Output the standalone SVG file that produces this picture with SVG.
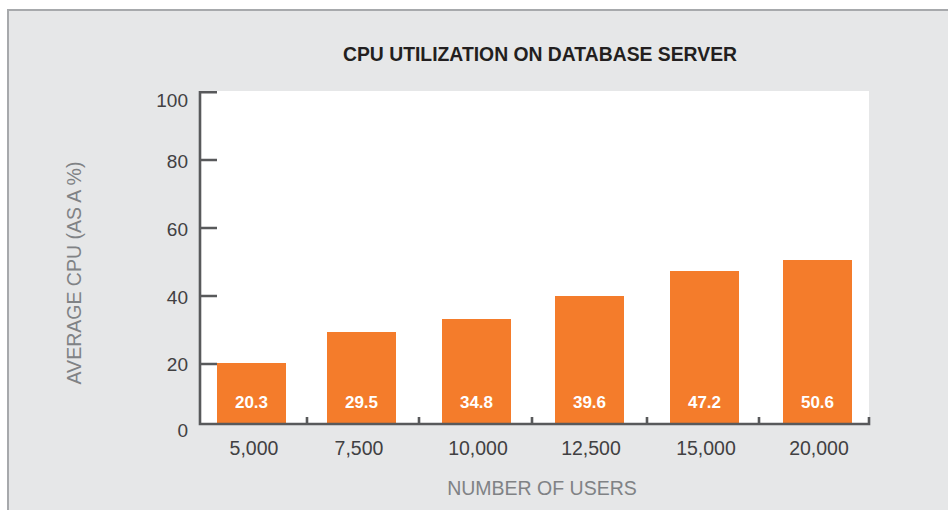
<svg xmlns="http://www.w3.org/2000/svg" width="948" height="510" viewBox="0 0 948 510">
<style>
.bar{fill:#f47c2b}
.axis{stroke:#58595b;stroke-width:2.6;fill:none}
.ylab{font-family:"Liberation Sans",Arial,sans-serif;font-size:19px;fill:#414042;text-anchor:end}
.xlab{font-family:"Liberation Sans",Arial,sans-serif;font-size:19.5px;fill:#414042;text-anchor:middle}
.val{font-family:"Liberation Sans",Arial,sans-serif;font-size:17px;font-weight:bold;fill:#ffffff;text-anchor:middle}
.atitle{font-family:"Liberation Sans",Arial,sans-serif;font-size:19.5px;fill:#808285;text-anchor:middle}
.title{font-family:"Liberation Sans",Arial,sans-serif;font-size:21px;font-weight:bold;fill:#231f20;text-anchor:middle}
</style>
<rect x="0" y="0" width="948" height="510" fill="#ffffff"/>
<rect x="8" y="10" width="950" height="510" fill="#e6e7e8" stroke="#a7a9ac" stroke-width="2"/>
<text class="title" x="540" y="61" textLength="394" lengthAdjust="spacingAndGlyphs">CPU UTILIZATION ON DATABASE SERVER</text>
<rect x="200" y="91" width="669" height="333" fill="#ffffff"/>
<g id="bars">
<g id="bar-5000"><rect class="bar" x="217" y="363" width="69" height="61"/><text class="val" x="251.5" y="408">20.3</text><text class="xlab" x="254" y="455">5,000</text></g>
<g id="bar-7500"><rect class="bar" x="327" y="332" width="69" height="92"/><text class="val" x="361.5" y="408">29.5</text><text class="xlab" x="359" y="455">7,500</text></g>
<g id="bar-10000"><rect class="bar" x="442" y="319" width="69" height="105"/><text class="val" x="476.5" y="408">34.8</text><text class="xlab" x="478" y="455">10,000</text></g>
<g id="bar-12500"><rect class="bar" x="555" y="296" width="69" height="128"/><text class="val" x="589.5" y="408">39.6</text><text class="xlab" x="591" y="455">12,500</text></g>
<g id="bar-15000"><rect class="bar" x="670" y="271" width="69" height="153"/><text class="val" x="704.5" y="408">47.2</text><text class="xlab" x="706" y="455">15,000</text></g>
<g id="bar-20000"><rect class="bar" x="783" y="260" width="69" height="164"/><text class="val" x="817.5" y="408">50.6</text><text class="xlab" x="819" y="455">20,000</text></g>
</g>
<g id="axes">
<path class="axis" d="M217 92.3H200V424H869V417"/>
<path class="axis" d="M200 160H217M200 228H217M200 296H217M200 364H217"/>
<path class="axis" d="M307 424V417M419 424V417M532 424V417M647 424V417M759 424V417"/>
</g>
<g id="y-labels">
<text class="ylab" x="188" y="107">100</text>
<text class="ylab" x="188" y="168">80</text>
<text class="ylab" x="188" y="236">60</text>
<text class="ylab" x="188" y="304">40</text>
<text class="ylab" x="188" y="371">20</text>
<text class="ylab" x="188" y="437">0</text>
</g>
<text class="atitle" x="542" y="495">NUMBER OF USERS</text>
<text class="atitle" transform="translate(81 273) rotate(-90)">AVERAGE CPU (AS A %)</text>
</svg>
